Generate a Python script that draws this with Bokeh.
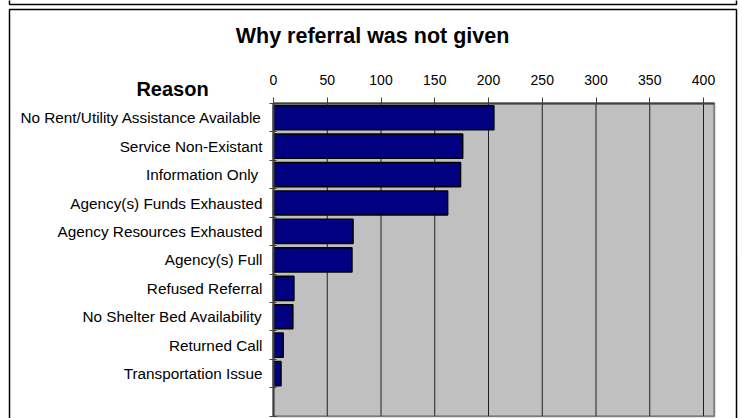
from bokeh.plotting import figure
from bokeh.models import (Range1d, FixedTicker, Label, ColumnDataSource,
                          LinearAxis, BoxAnnotation)
from bokeh.embed import file_html
from bokeh.resources import INLINE

categories = [
    "No Rent/Utility Assistance Available",
    "Service Non-Existant",
    "Information Only ",
    "Agency(s) Funds Exhausted",
    "Agency Resources Exhausted",
    "Agency(s) Full",
    "Refused Referral",
    "No Shelter Bed Availability",
    "Returned Call",
    "Transportation Issue",
]
counts = [205, 176, 174, 162, 74, 73, 19, 18, 9, 7]
x_ticks = [0, 50, 100, 150, 200, 250, 300, 350, 400]
x_max = 410

W, H = 742, 418
n_slots = len(categories) + 1  # one empty slot at the bottom
pos = list(range(len(categories)))
top_edge, bottom_edge = -0.5, n_slots - 0.5

src = ColumnDataSource(dict(y=pos, right=counts, cat=categories))

# frame covers the whole canvas; plot area placed via the ranges
px_x = 1.075            # pixels per unit along x
px_y = 28.43            # pixels per category slot
x0_px, top_px = 273, 103
p = figure(width=W, height=H, output_backend="svg", toolbar_location=None,
           x_range=Range1d(-x0_px / px_x, (W - x0_px) / px_x),
           y_range=Range1d(top_edge + (H - top_px) / px_y, top_edge - top_px / px_y),
           min_border=0, min_border_left=0, min_border_right=0,
           min_border_top=0, min_border_bottom=0, x_axis_type=None, y_axis_type=None)
p.background_fill_color = "white"
p.border_fill_color = "white"
p.outline_line_color = None
p.xgrid.visible = False
p.ygrid.visible = False

# outer boxes
p.add_layout(BoxAnnotation(left=9, right=736, top=H - 9, bottom=-10,
                           left_units="screen", right_units="screen",
                           top_units="screen", bottom_units="screen",
                           fill_color=None, line_color="black", line_alpha=1,
                           line_width=1.5))
p.add_layout(BoxAnnotation(left=9, right=736, top=H + 10, bottom=H - 4,
                           left_units="screen", right_units="screen",
                           top_units="screen", bottom_units="screen",
                           fill_color=None, line_color="black", line_alpha=1,
                           line_width=1.5))

# plot area
p.add_layout(BoxAnnotation(left=0, right=x_max, top=top_edge, bottom=bottom_edge,
                           fill_color="#C0C0C0", fill_alpha=1, line_color="#808080",
                           line_alpha=1, line_width=2, level="underlay"))
p.segment(x0=x_ticks[1:], x1=x_ticks[1:], y0=[top_edge] * (len(x_ticks) - 1),
          y1=[bottom_edge] * (len(x_ticks) - 1), line_color="#202020", line_width=1)

p.hbar(y="y", left=0, right="right", height=0.85, source=src,
       fill_color="#000080", line_color="black", line_width=1.5)

# x axis (top)
xa = LinearAxis(fixed_location=top_edge, bounds=(0, x_max))
xa.ticker = FixedTicker(ticks=x_ticks)
xa.major_label_text_font = "Liberation Sans"
xa.major_label_text_font_size = "14px"
xa.major_label_text_color = "black"
xa.major_tick_out = 6
xa.major_tick_in = 0
xa.minor_tick_out = 0
xa.minor_tick_in = 0
xa.axis_line_color = "#404040"
xa.axis_line_width = 2
xa.major_tick_line_color = "#404040"
xa.major_label_standoff = 13
p.add_layout(xa, "above")

# y axis (categories)
ya = LinearAxis(fixed_location=0, bounds=(top_edge, bottom_edge))
ya.ticker = FixedTicker(ticks=pos, minor_ticks=[i - 0.5 for i in range(n_slots + 1)])
ya.major_label_overrides = {i: c for i, c in zip(pos, categories)}
ya.major_label_text_font = "Liberation Sans"
ya.major_label_text_font_size = "15.3px"
ya.major_label_text_color = "black"
ya.major_tick_out = 0
ya.major_tick_in = 0
ya.minor_tick_out = 4
ya.minor_tick_in = 3
ya.minor_tick_line_color = "#404040"
ya.axis_line_color = "#404040"
ya.axis_line_width = 2
ya.major_label_standoff = 7
p.add_layout(ya, "left")

p.add_layout(Label(x=372, y=H - 35, x_units="screen", y_units="screen",
                   text="Why referral was not given", text_font="Liberation Sans",
                   text_font_style="bold", text_font_size="21.5px", text_color="black",
                   text_align="center", text_baseline="middle"))
p.add_layout(Label(x=172, y=H - 88, x_units="screen", y_units="screen",
                   text="Reason", text_font="Liberation Sans",
                   text_font_style="bold", text_font_size="20px", text_color="black",
                   text_align="center", text_baseline="middle"))

open("out.html", "w").write(file_html(p, INLINE))
